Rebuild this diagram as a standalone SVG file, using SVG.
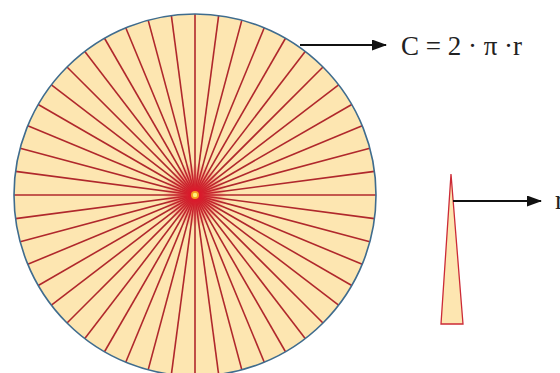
<svg xmlns="http://www.w3.org/2000/svg" xmlns:xlink="http://www.w3.org/1999/xlink" width="560" height="373" viewBox="0 0 560 373">
<style>
.spoke{stroke:#b0282c;stroke-width:1.6;fill:none}
.conn{stroke:#111;stroke-width:2;fill:none}
.lbl{font-family:"Liberation Serif","Times New Roman",serif;font-size:27px;fill:#222}
</style>
<defs>
<radialGradient id="glow" cx="0.5" cy="0.5" r="0.5">
<stop offset="0" stop-color="#e8102a" stop-opacity="0.95"/>
<stop offset="0.4" stop-color="#e0202e" stop-opacity="0.6"/>
<stop offset="1" stop-color="#e0202e" stop-opacity="0"/>
</radialGradient>
<line id="d" class="spoke" x1="14" y1="195" x2="376" y2="195"/>
<marker id="ah" markerWidth="15" markerHeight="11" refX="14" refY="5.5" orient="auto" markerUnits="userSpaceOnUse" viewBox="0 0 15 11">
<path d="M0,0 L15,5.5 L0,11 Z" fill="#111"/>
</marker>
</defs>
<rect width="560" height="373" fill="#fff"/>
<g id="circle">
<circle cx="195" cy="195" r="181" fill="#fde6b1"/>
<g>
<use xlink:href="#d"/>
<use xlink:href="#d" transform="rotate(7.5 195 195)"/>
<use xlink:href="#d" transform="rotate(15 195 195)"/>
<use xlink:href="#d" transform="rotate(22.5 195 195)"/>
<use xlink:href="#d" transform="rotate(30 195 195)"/>
<use xlink:href="#d" transform="rotate(37.5 195 195)"/>
<use xlink:href="#d" transform="rotate(45 195 195)"/>
<use xlink:href="#d" transform="rotate(52.5 195 195)"/>
<use xlink:href="#d" transform="rotate(60 195 195)"/>
<use xlink:href="#d" transform="rotate(67.5 195 195)"/>
<use xlink:href="#d" transform="rotate(75 195 195)"/>
<use xlink:href="#d" transform="rotate(82.5 195 195)"/>
<use xlink:href="#d" transform="rotate(90 195 195)"/>
<use xlink:href="#d" transform="rotate(97.5 195 195)"/>
<use xlink:href="#d" transform="rotate(105 195 195)"/>
<use xlink:href="#d" transform="rotate(112.5 195 195)"/>
<use xlink:href="#d" transform="rotate(120 195 195)"/>
<use xlink:href="#d" transform="rotate(127.5 195 195)"/>
<use xlink:href="#d" transform="rotate(135 195 195)"/>
<use xlink:href="#d" transform="rotate(142.5 195 195)"/>
<use xlink:href="#d" transform="rotate(150 195 195)"/>
<use xlink:href="#d" transform="rotate(157.5 195 195)"/>
<use xlink:href="#d" transform="rotate(165 195 195)"/>
<use xlink:href="#d" transform="rotate(172.5 195 195)"/>
</g>
<circle cx="195" cy="195" r="32" fill="url(#glow)"/>
<circle cx="195" cy="195" r="4" fill="#f7a020"/>
<circle cx="195" cy="195" r="2.2" fill="#fff27a"/>
<circle cx="195" cy="195" r="181" fill="none" stroke="#3f6c8e" stroke-width="1.6"/>
</g>
<g id="sector">
<polygon points="451,174 463,324 441,324" fill="#fde6b1" stroke="#cc2a36" stroke-width="1.3"/>
</g>
<g id="connectors">
<line class="conn" x1="300" y1="45" x2="386" y2="45" marker-end="url(#ah)"/>
<line class="conn" x1="453" y1="201" x2="541" y2="201" marker-end="url(#ah)"/>
</g>
<g id="labels">
<text class="lbl" x="401" y="55">C = 2 · π ·r</text>
<text class="lbl" x="555" y="209">r</text>
</g>
</svg>
